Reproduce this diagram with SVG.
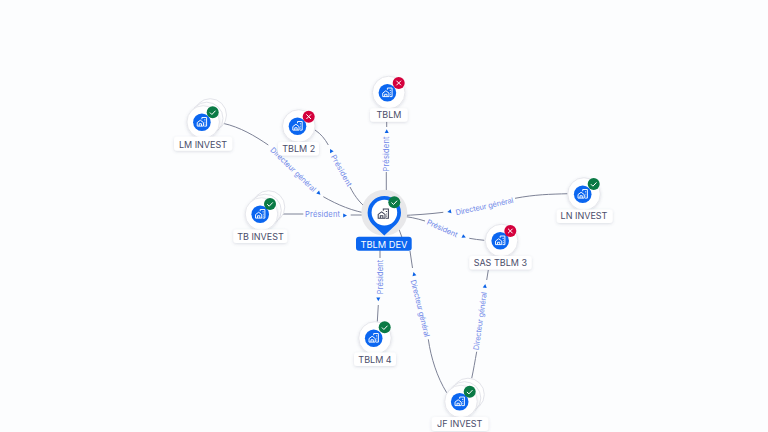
<svg xmlns="http://www.w3.org/2000/svg" width="768" height="432" viewBox="0 0 768 432">
<style>
text{font-family:Inter,"Liberation Sans",sans-serif}
.l{font-size:9px;fill:#4a4d6a;text-anchor:middle}
.e{font-size:7.500px;fill:#7088e8;text-anchor:middle}
.c{fill:none;stroke:#7d8296;stroke-width:1}
.lb{fill:#fff;filter:url(#s)}
.a{fill:#0b62e6}
</style>
<defs>
<filter id="s" x="-30%" y="-50%" width="160%" height="200%"><feDropShadow dx="0" dy="1" stdDeviation="1.500" flood-color="#5a6080" flood-opacity=".2"/></filter>
<path id="ar" d="M-1.800-2L2 0-1.800 2z"/>
<g id="ico" fill="none" stroke="currentColor" stroke-width="1.200"><path d="M-6 5v-4.500l4-3 4 3v4.500zM-3.500 5v-3h3v3"/><path d="M0-3.800v-2.200h6v11h-3M3-3h1.500M3.500 0h1M3.500 2.500h1"/></g>
<g id="base"><circle r="16.300" fill="#fff" stroke="#e6e7ec" filter="url(#s)"/><circle cx="-1.300" cy=".2" r="8.800" fill="#0b66f0"/><use href="#ico" transform="translate(-1.300 .2) scale(.78)" color="#fff"/></g>
<g id="stack"><circle cx="7" cy="-7" r="16.300" fill="#fff" stroke="#e3e4ea"/><circle cx="3.500" cy="-3.500" r="16.300" fill="#fff" stroke="#e3e4ea"/><use href="#base"/></g>
<g id="ok"><circle r="6" fill="#0a7a45"/><path d="M-2.800 .2l2 2 3.600-3.800" fill="none" stroke="#fff" stroke-width="1"/></g>
<g id="ko"><circle r="6" fill="#d4003c"/><path d="M-2.300-2.300l4.600 4.600M2.300-2.300l-4.600 4.600" stroke="#fff" stroke-width="1"/></g>
</defs>
<rect width="768" height="432" fill="#fcfdfe"/>
<g id="connectors">
<path class="c" d="M223 123.300C240 127 255 136 268.300 145M323.300 196.700C338 205 352 211 370 214"/>
<path class="c" d="M315 130C321 134 325 139 328.300 145M350 187C355 197 362 206 372 212"/>
<path class="c" d="M386.700 121.700V127M386.300 172V200"/>
<path class="c" d="M281.700 214H303.300M350.700 215H370"/>
<path class="c" d="M398 215.700C415 215 430 214 443.300 212.300M515 198.300C535 194.500 550 194.200 568.300 193.700"/>
<path class="c" d="M398 215.700C408 216.500 417 218.500 425 221M469.300 238.300C474 239.200 479 239.800 484.300 240.300"/>
<path class="c" d="M380 250V258M378.300 305L377.300 321.700"/>
<path class="c" d="M396.700 223C399 229 401 235 403.300 241M410 251L412.500 268M428.300 339.300C431 358 437 377 446.700 392.700"/>
<path class="c" d="M488.300 270L486.700 280M476.700 351.700C475 361 473.500 370 471.700 378.300"/>
<g class="a">
<use href="#ar" transform="translate(319 193.300) rotate(44)"/>
<use href="#ar" transform="translate(331 150.700) rotate(-119)"/>
<use href="#ar" transform="translate(386.700 131.300) rotate(-90)"/>
<use href="#ar" transform="translate(345 215.500)"/>
<use href="#ar" transform="translate(449.300 211.700) rotate(168)"/>
<use href="#ar" transform="translate(464 236.700) rotate(24)"/>
<use href="#ar" transform="translate(378.300 299.300) rotate(90)"/>
<use href="#ar" transform="translate(414 274) rotate(-104)"/>
<use href="#ar" transform="translate(485 286) rotate(-82)"/>
</g>
<g class="e">
<text transform="translate(293.300 169.500) rotate(44)" dy="2.700" textLength="60">Directeur général</text>
<text transform="translate(341.500 170.500) rotate(61)" dy="2.700" textLength="35">Président</text>
<text transform="translate(386.700 154) rotate(-90)" dy="2.700" textLength="35">Président</text>
<text transform="translate(322.500 214.500)" dy="2.700" textLength="35">Président</text>
<text transform="translate(484.500 206.300) rotate(-12.400)" dy="2.700" textLength="59">Directeur général</text>
<text transform="translate(442.300 228.300) rotate(24)" dy="2.700" textLength="33">Président</text>
<text transform="translate(380 277) rotate(-90)" dy="2.700" textLength="34.500">Président</text>
<text transform="translate(420.300 308.300) rotate(76)" dy="2.700" textLength="58.500">Directeur général</text>
<text transform="translate(480 321) rotate(-82)" dy="2.700" textLength="58.700">Directeur général</text>
</g>
</g>
<g id="n-tblm"><use href="#base" x="388.700" y="92.500"/><use href="#ko" x="398.700" y="83"/><rect class="lb" x="370" y="108.300" width="37.700" height="13.400" rx="3"/><text class="l" x="389" y="118.300">TBLM</text></g>
<g id="n-lm"><use href="#stack" x="203.200" y="122"/><use href="#ok" x="212.700" y="112.300"/><rect class="lb" x="174" y="136.700" width="58.300" height="14" rx="3"/><text class="l" x="203" y="148.300">LM INVEST</text></g>
<g id="n-tblm2"><use href="#base" x="298.800" y="126"/><use href="#ko" x="308.700" y="116.700"/><rect class="lb" x="278" y="142" width="41" height="13.500" rx="3"/><text class="l" x="298.700" y="152">TBLM 2</text></g>
<g id="n-tb"><use href="#stack" x="261.500" y="214"/><use href="#ok" x="270" y="204"/><rect class="lb" x="233.300" y="229.500" width="54" height="13.500" rx="3"/><text class="l" x="260.500" y="240">TB INVEST</text></g>
<g id="n-ln"><use href="#base" x="584" y="194"/><use href="#ok" x="593.700" y="184"/><rect class="lb" x="556.700" y="209.500" width="56" height="13.500" rx="3"/><text class="l" x="584" y="219.300">LN INVEST</text></g>
<g id="n-sas"><use href="#base" x="501.500" y="240.500"/><use href="#ko" x="510.300" y="231"/><rect class="lb" x="469.300" y="256" width="62.400" height="13.500" rx="3"/><text class="l" x="500.300" y="266">SAS TBLM 3</text></g>
<g id="n-tblm4"><use href="#base" x="375" y="338"/><use href="#ok" x="384.700" y="327.300"/><rect class="lb" x="354" y="352.500" width="42" height="13.500" rx="3"/><text class="l" x="375" y="362.500">TBLM 4</text></g>
<g id="n-jf"><use href="#stack" x="461" y="401.500"/><use href="#ok" x="469.700" y="391.700"/><rect class="lb" x="431.700" y="417" width="56.600" height="14" rx="3"/><text class="l" x="459.700" y="427.300">JF INVEST</text></g>
<g id="n-dev">
<circle cx="384.300" cy="212.700" r="23" fill="#e8e8ea"/>
<path d="M384.300 235.500L372.500 224.500A16.700 16.700 0 1 1 396.100 224.500Z" fill="#0b66f0"/>
<circle cx="384.400" cy="212.600" r="12.800" fill="#fff"/>
<use href="#ico" transform="translate(383.300 214) scale(.85)" color="#3c4056"/>
<use href="#ok" x="394.300" y="202.300"/>
<rect x="356" y="236.700" width="55.700" height="14" rx="3" fill="#0b66f0"/>
<text x="384" y="247.500" font-size="9.300" fill="#fff" text-anchor="middle">TBLM DEV</text>
</g>
</svg>
